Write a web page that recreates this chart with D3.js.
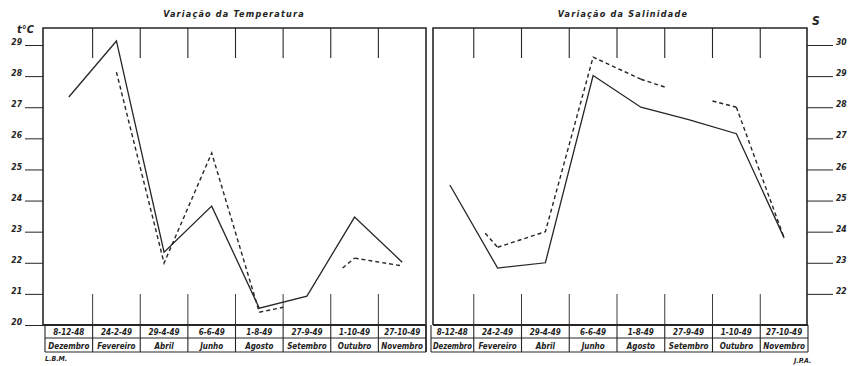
<!DOCTYPE html>
<html>
<head>
<meta charset="utf-8">
<script src="https://cdn.jsdelivr.net/npm/d3@7"></script>
<style>
  body { margin: 0; background: #fff; }
  svg text { font-family: "DejaVu Sans Condensed", "Liberation Sans Narrow", sans-serif; font-weight: bold; font-style: italic; fill: #222; }
</style>
</head>
<body>
<svg id="chart" width="848" height="366"></svg>
<script>
// categories
const months = ["Dezembro", "Fevereiro", "Abril", "Junho", "Agosto", "Setembro", "Outubro", "Novembro"];
const datesLeft = ["8-12-48", "24-2-49", "29-4-49", "6-6-49", "1-8-49", "27-9-49", "1-10-49", "27-10-49"];
const datesRight = ["8-12-48", "24-2-49", "29-4-49", "6-6-49", "1-8-49", "27-9-49", "1-10-49", "27-10-49"];

// temperature (°C)
const tempSolid = [27.33, 29.13, 22.34, 23.82, 20.54, 20.93, 23.47, 22.02];
const tempDashed = [null, 28.13, 21.99, 25.53, 20.41, null, 22.15, 21.9];
// broken dashed pieces: [categoryPosition, value] pairs (position in column units)
const tempDashedStubs = [[[4.5, 20.41], [5.0, 20.57]], [[6.25, 21.83], [6.5, 22.15]]];
const tempTicks = [20, 21, 22, 23, 24, 25, 26, 27, 28, 29];

// salinity
const salSolid = [25.5, 22.83, 23.0, 29.02, 28.0, 27.6, 27.15, 23.8];
const salDashed = [null, 23.5, 24.0, 29.61, 28.9, null, 28.0, 23.8];
const salDashedStubs = [[[1.24, 23.95], [1.5, 23.5]], [[4.5, 28.9], [5.0, 28.65]], [[6.0, 28.2], [6.5, 28.0]]];
const salTicks = [22, 23, 24, 25, 26, 27, 28, 29, 30];

const ink = "#262626";
const svg = d3.select("#chart");

const frameTop = 28, frameBottom = 325, row1 = 338, row2 = 352;

function drawPanel(opts) {
  const g = svg.append("g");
  const x = d3.scaleBand().domain(months).range(opts.xRange);
  const xi = d3.scaleLinear().domain([0, months.length]).range(opts.xRange);
  const y = d3.scaleLinear().domain(opts.yDomain).range([frameBottom, 45]);
  const cx = m => x(m) + x.bandwidth() / 2;

  // frame
  g.append("path")
    .attr("d", `M${opts.frameL},${frameBottom}V${frameTop}H${opts.frameR}V${opts.rightDown}`)
    .attr("fill", "none").attr("stroke", ink).attr("stroke-width", 1.6);

  // table
  const tl = opts.tableL, tr = opts.xRange[1];
  [frameBottom, row1, row2].forEach((yy, i) => {
    g.append("line").attr("x1", i === 0 ? opts.frameL : tl).attr("x2", tr)
      .attr("y1", yy).attr("y2", yy).attr("stroke", ink).attr("stroke-width", i === 0 ? 1.8 : 1.2);
  });
  const bounds = months.slice(1).map(m => x(m));
  g.selectAll(".tdiv").data([tl, ...bounds, tr]).join("line")
    .attr("x1", d => d).attr("x2", d => d).attr("y1", frameBottom).attr("y2", row2)
    .attr("stroke", ink).attr("stroke-width", 1.1);

  // column marks top and bottom
  g.selectAll(".ttick").data(bounds).join("line")
    .attr("x1", d => d).attr("x2", d => d).attr("y1", frameTop).attr("y2", 58)
    .attr("stroke", ink).attr("stroke-width", 1.1);
  g.selectAll(".btick").data(bounds).join("line")
    .attr("x1", d => d).attr("x2", d => d).attr("y1", 294).attr("y2", frameBottom)
    .attr("stroke", ink).attr("stroke-width", 0.9);

  // table labels
  const labX = (m, i) => i === 0 ? (tl + x(months[1])) / 2 : cx(m);
  g.selectAll(".dlab").data(months).join("text")
    .attr("x", labX).attr("y", 334.5)
    .attr("text-anchor", "middle").attr("font-size", 8)
    .text((m, i) => opts.dates[i]);
  g.selectAll(".mlab").data(months).join("text")
    .attr("x", labX).attr("y", 348.5)
    .attr("text-anchor", "middle").attr("font-size", 8)
    .attr("textLength", (m, i) => (i === 0 && opts.side === "right") ? 39 : null)
    .attr("lengthAdjust", "spacingAndGlyphs")
    .text(m => m);

  // y axis
  const axis = opts.side === "left"
    ? d3.axisLeft(y).tickValues(opts.ticks).tickSize(18).tickPadding(3)
    : d3.axisRight(y).tickValues(opts.ticks).tickSize(26).tickPadding(3);
  const ax = g.append("g")
    .attr("transform", `translate(${opts.side === "left" ? opts.frameL : opts.frameR},0)`)
    .call(axis);
  ax.select(".domain").remove();
  ax.selectAll("line").attr("stroke", ink).attr("stroke-width", 1);
  ax.selectAll("text").attr("font-size", 8.5).attr("dy", "-0.05em")
    .attr("font-family", "DejaVu Sans Condensed, sans-serif").attr("fill", ink);

  // lines
  const line = d3.line()
    .defined(d => d.v !== null)
    .x(d => cx(d.m)).y(d => y(d.v));
  g.append("path")
    .datum(months.map((m, i) => ({ m, v: opts.solid[i] })))
    .attr("d", line).attr("fill", "none").attr("stroke", ink).attr("stroke-width", 1.3);
  g.append("path")
    .datum(months.map((m, i) => ({ m, v: opts.dashed[i] })))
    .attr("d", line).attr("fill", "none").attr("stroke", ink)
    .attr("stroke-width", 1.4).attr("stroke-dasharray", "4,3");
  const stubLine = d3.line().x(d => xi(d[0])).y(d => y(d[1]));
  g.selectAll(".stub").data(opts.stubs).join("path")
    .attr("d", stubLine).attr("fill", "none").attr("stroke", ink)
    .attr("stroke-width", 1.4).attr("stroke-dasharray", "4,3");

  // title
  g.append("text").attr("x", opts.titleX).attr("y", 17).attr("text-anchor", "middle")
    .attr("font-size", 9).attr("letter-spacing", 1.2).text(opts.title);
}

drawPanel({
  xRange: [45, 426], frameL: 43, frameR: 426, rightDown: row2, tableL: 45,
  yDomain: [20, 29], ticks: tempTicks, side: "left", dates: datesLeft,
  solid: tempSolid, dashed: tempDashed, stubs: tempDashedStubs,
  title: "Variação da Temperatura", titleX: 234
});
drawPanel({
  xRange: [426, 808], frameL: 433, frameR: 807, rightDown: frameBottom, tableL: 431,
  yDomain: [21, 30], ticks: salTicks, side: "right", dates: datesRight,
  solid: salSolid, dashed: salDashed, stubs: salDashedStubs,
  title: "Variação da Salinidade", titleX: 623
});

// axis units and initials
svg.append("text").attr("x", 17).attr("y", 33).attr("font-size", 11).text("t°C");
svg.append("text").attr("x", 812).attr("y", 25).attr("font-size", 12).text("S");
svg.append("text").attr("x", 45).attr("y", 361).attr("font-size", 7).text("L.B.M.");
svg.append("text").attr("x", 794).attr("y", 363).attr("font-size", 7).text("J.P.A.");
</script>
</body>
</html>
